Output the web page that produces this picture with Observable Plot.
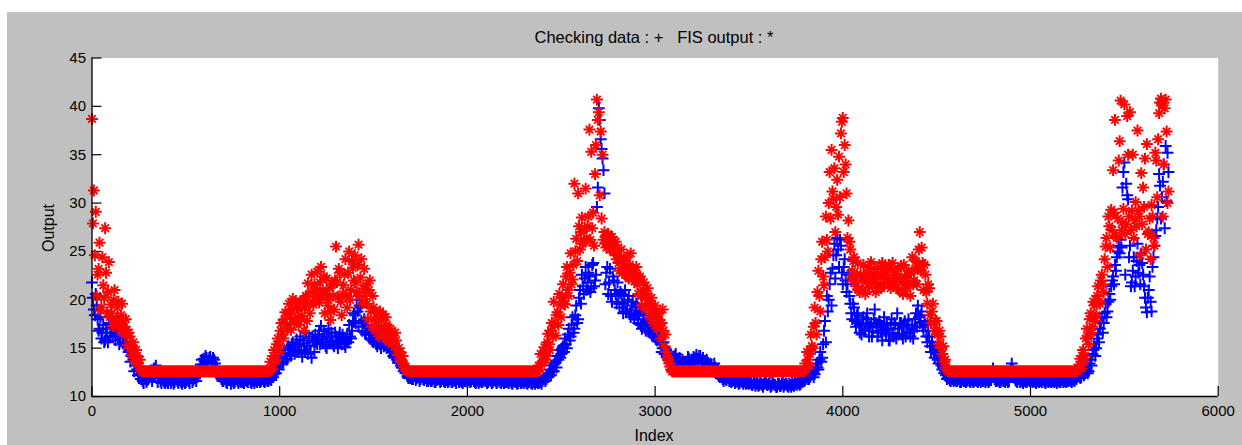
<!DOCTYPE html>
<html>
<head>
<meta charset="utf-8">
<script src="https://cdn.jsdelivr.net/npm/d3@7"></script>
<script src="https://cdn.jsdelivr.net/npm/@observablehq/plot@0.6"></script>
<style>
  html, body { margin: 0; padding: 0; background: #ffffff; }
  #fig { position: relative; width: 1242px; height: 445px; overflow: hidden; background: #ffffff; }
  #panel { position: absolute; left: 7px; top: 12px; width: 1235px; height: 433px; background: #c0c0c0; }
  .lbl { position: absolute; font-family: "Liberation Sans", Arial, sans-serif; font-size: 16px; color: #000; white-space: pre; line-height: 1; }
  #title { left: 654px; top: 37px; transform: translate(-50%, -50%); font-size: 16.5px; }
  #ylab { left: 49px; top: 228px; transform: translate(-50%, -50%) rotate(-90deg); }
  #xlab { left: 654px; top: 436px; transform: translate(-50%, -50%); }
</style>
</head>
<body>
<div id="fig">
  <div id="panel"></div>
  <div class="lbl" id="title">Checking data : +   FIS output : *</div>
  <div class="lbl" id="ylab">Output</div>
  <div class="lbl" id="xlab">Index</div>
</div>
<script>
// Two interleaved readings per 10-index window: one at index 10*i, one at 10*i + 5.
const sampleStep = 10;
const halfStep = 5;

// Checking data (blue "+") at index 10*i
const checkData = [
  21.8, 19.0, 20.6, 18.0, 17.0, 16.0, 17.4, 15.8, 16.6, 17.6,
  17.4, 16.2, 17.0, 16.4, 17.2, 16.0, 16.8, 16.2, 15.6, 15.0,
  14.8, 14.2, 13.8, 13.2, 12.8, 12.3, 11.8, 11.6, 12.0, 11.5,
  11.8, 12.6, 11.6, 12.9, 13.2, 11.5, 12.0, 11.4, 11.7, 11.4,
  11.6, 11.9, 11.4, 11.8, 11.5, 12.0, 11.4, 11.7, 11.3, 11.6,
  11.5, 11.8, 11.4, 12.0, 11.7, 11.9, 12.2, 12.8, 13.3, 13.0,
  13.6, 14.0, 13.7, 14.1, 13.5, 13.8, 13.0, 12.6, 12.2, 11.8,
  11.6, 11.9, 11.4, 11.7, 11.3, 11.8, 11.5, 11.9, 11.4, 11.6,
  11.7, 11.4, 11.8, 11.5, 11.9, 11.4, 11.6, 11.8, 11.5, 11.7,
  11.6, 11.8, 11.5, 11.9, 11.6, 12.0, 12.2, 12.6, 12.4, 13.0,
  13.4, 14.0, 13.6, 14.5, 13.9, 15.0, 14.2, 15.6, 14.4, 15.9,
  14.6, 16.2, 14.1, 15.5, 16.6, 14.4, 15.2, 14.0, 15.8, 16.4,
  15.4, 16.8, 17.3, 15.6, 16.4, 15.0, 17.0, 15.8, 16.2, 15.2,
  16.2, 15.0, 16.6, 15.4, 16.0, 15.1, 16.5, 17.4, 16.0, 17.8,
  18.4, 20.0, 17.2, 19.2, 16.8, 18.0, 16.4, 17.2, 16.0, 16.6,
  15.6, 16.2, 15.2, 15.9, 15.0, 15.6, 15.3, 15.0, 15.4, 14.8,
  14.6, 14.0, 14.3, 13.5, 13.8, 13.0, 12.6, 12.4, 12.1, 12.2,
  12.0, 11.8, 12.2, 11.9, 12.1, 11.8, 12.0, 11.7, 11.9, 11.6,
  11.8, 11.6, 11.9, 11.5, 11.7, 11.8, 11.6, 11.9, 11.5, 11.7,
  11.6, 11.8, 11.5, 11.7, 11.4, 11.8, 11.6, 11.5, 11.7, 11.6,
  11.5, 11.7, 11.6, 11.8, 11.5, 11.6, 11.4, 11.7, 11.5, 11.8,
  11.6, 11.5, 11.8, 11.4, 11.7, 11.6, 11.5, 11.8, 11.4, 11.6,
  11.7, 11.5, 11.4, 11.6, 11.3, 11.7, 11.5, 11.4, 11.6, 11.5,
  11.4, 11.6, 11.3, 11.5, 11.4, 11.6, 11.3, 11.5, 11.4, 11.6,
  11.6, 11.9, 12.2, 12.0, 12.8, 13.2, 12.6, 13.6, 14.2, 14.8,
  14.4, 15.2, 16.0, 15.0, 17.0, 16.2, 18.2, 17.0, 19.4, 18.0,
  21.0, 22.6, 20.6, 23.4, 21.8, 22.4, 21.2, 23.8, 22.0, 29.6,
  39.8, 36.6, 34.6, 31.0, 22.8, 20.6, 23.2, 19.8, 22.0, 20.6,
  21.8, 19.2, 20.6, 18.6, 21.0, 19.0, 20.4, 18.2, 19.8, 18.0,
  19.6, 17.6, 18.8, 17.0, 18.4, 16.8, 17.8, 16.6, 17.2, 16.2,
  16.6, 15.8, 16.2, 15.4, 15.0, 14.4, 14.8, 13.8, 14.2, 13.6,
  13.6, 14.4, 13.2, 14.0, 12.9, 13.6, 13.0, 13.4, 13.9, 13.1,
  13.6, 14.0, 14.3, 13.8, 14.2, 13.5, 13.6, 13.2, 13.4, 12.8,
  13.2, 12.9, 13.0, 12.5, 12.2, 12.0, 11.8, 12.0, 11.7, 11.9,
  11.8, 11.6, 11.7, 11.5, 11.6, 11.4, 11.6, 11.3, 11.5, 11.4,
  11.3, 11.5, 11.2, 11.4, 11.3, 11.1, 11.4, 11.2, 11.3, 11.5,
  11.2, 11.4, 11.1, 11.3, 11.2, 11.0, 11.3, 11.1, 11.4, 11.2,
  11.3, 11.0, 11.2, 11.4, 11.1, 11.3, 11.5, 11.2, 11.6, 11.8,
  11.9, 12.1, 11.8, 12.2, 12.6, 12.3, 13.4, 12.8, 14.6, 14.0,
  16.8, 15.6, 18.8, 21.6, 19.4, 24.6, 22.2, 26.4, 23.4, 25.6,
  21.6, 24.2, 20.8, 22.6, 19.6, 18.0, 19.2, 17.2, 18.6, 16.6,
  16.4, 18.2, 17.0, 18.6, 16.2, 17.6, 16.8, 19.0, 17.2, 16.6,
  17.4, 15.8, 18.2, 16.4, 17.0, 15.8, 18.0, 16.2, 17.4, 18.6,
  16.4, 17.6, 16.0, 17.8, 16.6, 18.0, 16.2, 17.4, 16.8, 18.6,
  19.4, 17.6, 18.8, 16.8, 17.4, 15.6, 16.2, 14.6, 15.2, 14.0,
  14.4, 13.4, 13.8, 12.8, 12.4, 12.2, 11.9, 11.7, 11.9, 11.6,
  11.8, 11.6, 11.9, 11.5, 11.7, 11.8, 11.6, 11.9, 11.5, 11.7,
  11.6, 11.8, 11.5, 11.7, 11.9, 11.6, 11.5, 11.8, 11.6, 11.7,
  12.9, 11.8, 11.6, 11.7, 11.5, 11.8, 11.6, 11.7, 11.5, 12.2,
  13.4, 12.6, 11.7, 11.5, 11.8, 11.6, 11.4, 11.7, 11.5, 11.8,
  11.6, 11.5, 11.7, 11.4, 11.6, 11.8, 11.5, 11.7, 11.4, 11.6,
  11.7, 11.5, 11.6, 11.8, 11.4, 11.6, 11.5, 11.7, 11.6, 11.5,
  11.6, 11.8, 11.5, 11.7, 11.9, 12.0, 12.2, 12.0, 12.6, 12.4,
  13.0, 12.6, 13.8, 14.4, 15.4, 15.0, 16.4, 17.0, 18.2, 17.6,
  19.6, 18.8, 20.6, 21.4, 22.4, 23.6, 24.4, 25.6, 26.2, 31.6,
  34.2, 32.0, 30.4, 25.6, 21.8, 24.4, 22.4, 25.8, 23.6, 24.8,
  22.6, 20.2, 18.7, 21.0, 19.8, 23.4, 25.6, 27.2, 29.6, 31.8,
  30.6, 34.0, 35.9, 35.2
];

// Checking data (blue "+") at index 10*i + 5
const checkDataHalf = [
  20.2, 18.4, 19.4, 16.8, 18.2, 16.6, 15.6, 17.0, 15.6, 16.2,
  16.6, 17.6, 15.8, 17.8, 15.4, 17.4, 15.6, 15.2, 16.2, 14.6,
  13.6, 14.6, 12.6, 13.6, 12.2, 12.9, 12.2, 11.4, 11.8, 11.7,
  12.2, 12.0, 12.4, 12.0, 12.6, 11.9, 11.6, 11.9, 11.5, 11.8,
  11.4, 11.7, 11.6, 11.3, 11.9, 11.6, 11.8, 11.5, 11.7, 11.4,
  11.7, 11.6, 11.9, 11.5, 12.1, 11.6, 12.6, 12.4, 13.8, 13.9,
  14.2, 13.5, 14.0, 13.6, 14.0, 13.4, 12.8, 12.2, 12.0, 11.6,
  11.8, 11.5, 11.7, 11.9, 11.6, 11.4, 11.8, 11.6, 11.7, 11.5,
  11.5, 11.7, 11.6, 11.8, 11.5, 11.7, 11.4, 11.6, 11.8, 11.5,
  11.8, 11.6, 11.7, 11.6, 11.8, 11.7, 12.0, 12.4, 13.2, 12.8,
  14.2, 13.4, 14.8, 13.8, 15.2, 14.4, 15.4, 14.8, 15.2, 14.6,
  15.4, 14.8, 15.8, 14.6, 15.2, 16.0, 14.6, 16.2, 14.6, 15.6,
  16.2, 15.4, 16.0, 16.8, 15.2, 16.2, 15.6, 16.6, 15.4, 16.6,
  15.6, 16.2, 15.6, 16.4, 15.4, 15.8, 15.6, 16.2, 16.8, 18.6,
  17.6, 18.8, 19.4, 17.8, 17.6, 16.6, 17.4, 16.4, 16.8, 15.8,
  16.0, 15.4, 16.4, 15.4, 15.8, 15.2, 15.8, 15.6, 14.8, 15.2,
  14.2, 14.6, 13.8, 14.0, 13.2, 13.4, 12.8, 12.8, 11.9, 11.9,
  11.8, 12.1, 11.7, 12.0, 11.6, 12.0, 11.8, 11.9, 11.6, 11.8,
  11.6, 11.8, 11.5, 11.7, 11.9, 11.5, 11.8, 11.6, 11.7, 11.5,
  11.8, 11.5, 11.7, 11.6, 11.8, 11.5, 11.7, 11.4, 11.6, 11.8,
  11.7, 11.5, 11.8, 11.6, 11.4, 11.7, 11.6, 11.5, 11.7, 11.6,
  11.4, 11.7, 11.6, 11.5, 11.8, 11.4, 11.7, 11.5, 11.6, 11.4,
  11.5, 11.6, 11.7, 11.4, 11.6, 11.5, 11.3, 11.6, 11.4, 11.7,
  11.6, 11.4, 11.5, 11.7, 11.3, 11.5, 11.6, 11.4, 11.5, 11.3,
  11.8, 11.6, 12.0, 12.4, 12.2, 12.6, 13.4, 13.0, 13.8, 14.0,
  15.0, 14.6, 15.4, 16.4, 15.8, 17.4, 16.6, 18.4, 17.6, 20.2,
  19.6, 21.4, 22.2, 21.0, 22.8, 20.8, 23.6, 21.4, 22.6, 31.6,
  38.6, 35.6, 33.4, 21.6, 23.4, 21.8, 20.4, 22.4, 21.0, 19.6,
  20.4, 20.8, 19.6, 19.8, 18.8, 20.0, 18.6, 19.4, 18.4, 19.2,
  18.4, 18.6, 17.4, 18.0, 17.2, 17.6, 16.8, 17.4, 16.4, 16.8,
  16.0, 16.4, 15.6, 14.6, 15.6, 15.0, 14.2, 14.6, 13.4, 14.0,
  14.2, 13.8, 13.6, 13.2, 13.8, 12.8, 13.2, 14.1, 13.4, 13.8,
  14.1, 13.4, 13.9, 14.2, 13.6, 14.0, 12.9, 13.8, 13.0, 13.4,
  12.6, 13.4, 12.4, 12.8, 12.0, 12.4, 11.6, 11.8, 12.0, 11.6,
  11.5, 11.7, 11.4, 11.8, 11.3, 11.7, 11.5, 11.6, 11.3, 11.6,
  11.4, 11.2, 11.5, 11.1, 11.4, 11.2, 11.3, 11.0, 11.4, 11.2,
  11.3, 11.0, 11.4, 11.2, 11.0, 11.3, 11.1, 11.3, 11.0, 11.3,
  11.1, 11.3, 11.0, 11.2, 11.4, 11.2, 11.4, 11.3, 11.5, 11.6,
  12.0, 11.8, 12.0, 12.4, 12.0, 12.8, 13.0, 13.8, 13.6, 15.4,
  17.8, 20.4, 20.0, 22.8, 23.2, 25.8, 24.6, 25.2, 26.2, 22.8,
  23.4, 22.0, 21.6, 20.4, 18.6, 19.6, 17.8, 18.4, 17.6, 17.4,
  17.4, 16.8, 18.0, 17.4, 17.2, 16.2, 18.0, 17.6, 16.2, 17.8,
  16.6, 17.2, 16.8, 17.6, 15.8, 17.4, 16.6, 17.6, 16.0, 17.0,
  17.6, 16.4, 17.2, 16.2, 17.4, 16.6, 17.0, 16.0, 18.0, 17.2,
  18.2, 18.4, 17.2, 17.8, 16.2, 16.8, 15.2, 15.6, 14.6, 14.8,
  13.8, 14.0, 13.2, 13.0, 12.6, 11.8, 12.0, 11.6, 11.8, 11.7,
  11.6, 11.8, 11.5, 11.8, 11.6, 11.5, 11.7, 11.6, 11.8, 11.5,
  11.7, 11.6, 11.8, 11.5, 11.6, 11.8, 11.7, 11.5, 11.8, 12.2,
  12.4, 11.6, 11.8, 11.5, 11.7, 11.6, 11.5, 11.8, 11.6, 12.8,
  12.8, 11.9, 11.6, 11.8, 11.5, 11.7, 11.6, 11.5, 11.7, 11.6,
  11.8, 11.6, 11.5, 11.7, 11.5, 11.6, 11.7, 11.5, 11.7, 11.5,
  11.6, 11.8, 11.5, 11.6, 11.7, 11.5, 11.8, 11.5, 11.7, 11.6,
  11.7, 11.6, 11.8, 11.6, 11.8, 12.1, 11.9, 12.4, 12.2, 12.8,
  12.4, 13.4, 13.2, 14.8, 14.2, 16.0, 15.6, 17.6, 16.6, 18.6,
  18.2, 19.8, 20.0, 22.0, 21.6, 23.0, 25.0, 24.8, 25.4, 33.2,
  22.6, 30.8, 24.4, 21.4, 23.0, 21.4, 24.0, 22.8, 21.6, 23.8,
  21.4, 19.2, 20.2, 22.4, 18.8, 24.4, 26.6, 28.4, 33.0, 28.4,
  32.2, 27.4, 30.2, 33.2
];

// FIS output (red "*") at index 10*i
const fisOutput = [
  38.7, 31.3, 29.1, 22.6, 25.9, 19.2, 21.5, 27.4, 18.6, 23.9,
  19.5, 17.3, 21.0, 18.0, 19.8, 16.8, 19.6, 17.2, 18.0, 15.3,
  16.2, 14.3, 15.6, 13.6, 14.2, 13.1, 12.8, 12.6, 12.6, 12.6,
  12.6, 12.6, 12.6, 12.6, 12.6, 12.6, 12.6, 12.6, 12.6, 12.6,
  12.6, 12.6, 12.6, 12.6, 12.6, 12.6, 12.6, 12.6, 12.6, 12.6,
  12.6, 12.6, 12.6, 12.6, 12.6, 12.6, 12.6, 12.6, 12.6, 12.6,
  12.6, 12.6, 12.6, 12.6, 12.6, 12.6, 12.6, 12.6, 12.6, 12.6,
  12.6, 12.6, 12.6, 12.6, 12.6, 12.6, 12.6, 12.6, 12.6, 12.6,
  12.6, 12.6, 12.6, 12.6, 12.6, 12.6, 12.6, 12.6, 12.6, 12.6,
  12.6, 12.6, 12.6, 12.6, 12.6, 13.6, 12.9, 14.8, 13.7, 16.0,
  15.2, 17.6, 16.0, 18.7, 17.0, 19.6, 16.9, 20.1, 18.0, 19.2,
  17.4, 19.8, 18.3, 16.8, 20.4, 21.7, 18.6, 22.6, 19.5, 21.2,
  22.9, 19.7, 23.4, 21.0, 18.6, 22.2, 20.0, 17.9, 21.6, 19.0,
  25.5, 20.3, 22.8, 18.4, 21.5, 24.2, 19.2, 25.0, 21.0, 23.3,
  24.6, 20.8, 25.7, 22.3, 19.6, 23.2, 21.5, 18.0, 22.0, 17.2,
  19.2, 16.8, 18.6, 16.2, 17.9, 18.5, 16.0, 17.4, 15.6, 17.0,
  16.4, 15.2, 15.8, 14.3, 14.6, 13.6, 13.4, 12.9, 12.6, 12.6,
  12.6, 12.6, 12.6, 12.6, 12.6, 12.6, 12.6, 12.6, 12.6, 12.6,
  12.6, 12.6, 12.6, 12.6, 12.6, 12.6, 12.6, 12.6, 12.6, 12.6,
  12.6, 12.6, 12.6, 12.6, 12.6, 12.6, 12.6, 12.6, 12.6, 12.6,
  12.6, 12.6, 12.6, 12.6, 12.6, 12.6, 12.6, 12.6, 12.6, 12.6,
  12.6, 12.6, 12.6, 12.6, 12.6, 12.6, 12.6, 12.6, 12.6, 12.6,
  12.6, 12.6, 12.6, 12.6, 12.6, 12.6, 12.6, 12.6, 12.6, 12.6,
  12.6, 12.6, 12.6, 12.6, 12.6, 12.6, 12.6, 12.6, 13.2, 14.4,
  13.6, 15.1, 14.2, 16.5, 14.8, 17.6, 19.8, 16.3, 18.7, 20.6,
  18.2, 21.6, 19.5, 23.4, 20.4, 24.8, 22.1, 32.0, 26.3, 31.0,
  25.2, 28.5, 26.0, 31.5, 27.6, 37.6, 35.3, 29.0, 33.0, 40.7,
  39.4, 37.4, 35.0, 27.0, 25.4, 26.8, 25.2, 26.5, 24.9, 26.0,
  24.6, 23.0, 25.2, 23.6, 22.6, 24.4, 22.2, 24.8, 23.0, 21.9,
  23.4, 20.6, 22.4, 19.4, 21.8, 19.0, 21.2, 18.2, 20.2, 17.6,
  19.4, 17.0, 18.6, 16.0, 19.0, 15.2, 14.6, 13.8, 13.1, 12.6,
  12.6, 12.6, 12.6, 12.6, 12.6, 12.6, 12.6, 12.6, 12.6, 12.6,
  12.6, 12.6, 12.6, 12.6, 12.6, 12.6, 12.6, 12.6, 12.6, 12.6,
  12.6, 12.6, 12.6, 12.6, 12.6, 12.6, 12.6, 12.6, 12.6, 12.6,
  12.6, 12.6, 12.6, 12.6, 12.6, 12.6, 12.6, 12.6, 12.6, 12.6,
  12.6, 12.6, 12.6, 12.6, 12.6, 12.6, 12.6, 12.6, 12.6, 12.6,
  12.6, 12.6, 12.6, 12.6, 12.6, 12.6, 12.6, 12.6, 12.6, 12.6,
  12.6, 12.6, 12.6, 12.6, 12.6, 12.6, 12.6, 12.6, 12.6, 12.6,
  13.4, 14.6, 13.2, 16.4, 15.0, 19.2, 16.4, 23.0, 18.8, 26.0,
  21.5, 28.6, 25.0, 33.2, 35.5, 30.4, 27.0, 32.4, 34.8, 37.2,
  38.8, 36.0, 31.0, 28.2, 25.2, 23.0, 24.4, 21.4, 23.8, 20.8,
  22.0, 23.6, 20.6, 22.8, 21.3, 23.9, 21.8, 22.6, 21.6, 23.4,
  22.3, 23.8, 21.6, 22.9, 21.8, 23.3, 22.1, 21.5, 23.0, 22.0,
  21.0, 23.5, 20.6, 22.4, 21.4, 23.0, 20.4, 24.4, 22.0, 24.0,
  23.2, 27.0, 25.4, 21.0, 22.6, 19.6, 21.2, 17.6, 19.6, 16.8,
  17.8, 15.4, 16.2, 14.4, 13.6, 13.0, 12.6, 12.6, 12.6, 12.6,
  12.6, 12.6, 12.6, 12.6, 12.6, 12.6, 12.6, 12.6, 12.6, 12.6,
  12.6, 12.6, 12.6, 12.6, 12.6, 12.6, 12.6, 12.6, 12.6, 12.6,
  12.6, 12.6, 12.6, 12.6, 12.6, 12.6, 12.6, 12.6, 12.6, 12.6,
  12.6, 12.6, 12.6, 12.6, 12.6, 12.6, 12.6, 12.6, 12.6, 12.6,
  12.6, 12.6, 12.6, 12.6, 12.6, 12.6, 12.6, 12.6, 12.6, 12.6,
  12.6, 12.6, 12.6, 12.6, 12.6, 12.6, 12.6, 12.6, 12.6, 12.6,
  12.6, 12.6, 12.6, 12.6, 12.6, 12.6, 13.3, 12.9, 14.8, 14.2,
  17.0, 15.4, 18.6, 17.2, 19.4, 18.4, 21.4, 19.6, 22.6, 20.8,
  25.5, 23.4, 27.6, 29.3, 33.4, 38.6, 26.4, 34.4, 40.6, 28.0,
  40.2, 27.8, 35.0, 39.4, 29.2, 26.4, 30.1, 37.5, 28.6, 33.1,
  31.6, 34.6, 36.1, 27.0, 24.2, 28.6, 25.6, 34.4, 36.6, 40.4,
  40.3, 34.0, 40.7, 30.0
];

// FIS output (red "*") at index 10*i + 5
const fisOutputHalf = [
  27.9, 24.6, 20.4, 23.2, 18.9, 24.4, 20.2, 22.8, 20.8, 18.2,
  18.6, 20.0, 17.6, 19.2, 17.6, 18.4, 17.8, 16.4, 16.9, 16.6,
  15.0, 15.2, 14.0, 14.8, 13.4, 13.8, 12.6, 12.6, 12.6, 12.6,
  12.6, 12.6, 12.6, 12.6, 12.6, 12.6, 12.6, 12.6, 12.6, 12.6,
  12.6, 12.6, 12.6, 12.6, 12.6, 12.6, 12.6, 12.6, 12.6, 12.6,
  12.6, 12.6, 12.6, 12.6, 12.6, 12.6, 12.6, 12.6, 12.6, 12.6,
  12.6, 12.6, 12.6, 12.6, 12.6, 12.6, 12.6, 12.6, 12.6, 12.6,
  12.6, 12.6, 12.6, 12.6, 12.6, 12.6, 12.6, 12.6, 12.6, 12.6,
  12.6, 12.6, 12.6, 12.6, 12.6, 12.6, 12.6, 12.6, 12.6, 12.6,
  12.6, 12.6, 12.6, 12.6, 12.6, 12.8, 14.2, 13.8, 15.4, 14.6,
  16.8, 16.4, 18.0, 17.4, 18.6, 18.2, 19.0, 17.6, 19.8, 18.2,
  19.0, 18.0, 20.0, 19.2, 17.8, 19.6, 20.8, 19.8, 21.6, 20.4,
  20.6, 21.8, 20.2, 22.4, 20.6, 19.4, 21.2, 18.8, 20.4, 22.0,
  21.8, 23.2, 19.8, 20.6, 22.6, 20.4, 22.8, 20.0, 24.0, 22.0,
  21.8, 23.6, 20.4, 24.2, 21.2, 20.4, 19.6, 21.0, 18.8, 20.4,
  18.0, 17.8, 17.2, 18.8, 16.8, 17.0, 18.2, 16.6, 16.4, 16.2,
  15.8, 16.6, 14.8, 15.0, 13.8, 14.2, 13.0, 12.7, 12.6, 12.6,
  12.6, 12.6, 12.6, 12.6, 12.6, 12.6, 12.6, 12.6, 12.6, 12.6,
  12.6, 12.6, 12.6, 12.6, 12.6, 12.6, 12.6, 12.6, 12.6, 12.6,
  12.6, 12.6, 12.6, 12.6, 12.6, 12.6, 12.6, 12.6, 12.6, 12.6,
  12.6, 12.6, 12.6, 12.6, 12.6, 12.6, 12.6, 12.6, 12.6, 12.6,
  12.6, 12.6, 12.6, 12.6, 12.6, 12.6, 12.6, 12.6, 12.6, 12.6,
  12.6, 12.6, 12.6, 12.6, 12.6, 12.6, 12.6, 12.6, 12.6, 12.6,
  12.6, 12.6, 12.6, 12.6, 12.6, 12.6, 12.6, 12.6, 12.8, 13.4,
  14.4, 13.8, 15.6, 15.4, 16.8, 16.2, 17.4, 18.4, 17.4, 19.4,
  20.2, 19.6, 22.4, 21.0, 22.8, 21.6, 23.6, 25.0, 24.0, 27.6,
  27.0, 25.8, 27.4, 26.4, 28.6, 26.2, 27.4, 25.6, 36.0, 38.6,
  30.8, 28.4, 26.2, 25.8, 26.6, 25.6, 26.0, 25.4, 25.6, 24.2,
  23.8, 24.2, 22.8, 24.0, 23.4, 22.4, 23.6, 23.2, 22.4, 22.8,
  21.6, 22.2, 20.4, 21.0, 20.2, 20.6, 19.6, 19.6, 18.6, 18.8,
  18.2, 18.0, 17.4, 17.6, 16.8, 16.4, 14.0, 13.4, 12.8, 12.6,
  12.6, 12.6, 12.6, 12.6, 12.6, 12.6, 12.6, 12.6, 12.6, 12.6,
  12.6, 12.6, 12.6, 12.6, 12.6, 12.6, 12.6, 12.6, 12.6, 12.6,
  12.6, 12.6, 12.6, 12.6, 12.6, 12.6, 12.6, 12.6, 12.6, 12.6,
  12.6, 12.6, 12.6, 12.6, 12.6, 12.6, 12.6, 12.6, 12.6, 12.6,
  12.6, 12.6, 12.6, 12.6, 12.6, 12.6, 12.6, 12.6, 12.6, 12.6,
  12.6, 12.6, 12.6, 12.6, 12.6, 12.6, 12.6, 12.6, 12.6, 12.6,
  12.6, 12.6, 12.6, 12.6, 12.6, 12.6, 12.6, 12.6, 12.6, 12.6,
  12.8, 13.8, 14.4, 15.2, 17.2, 17.6, 20.8, 20.4, 24.2, 22.4,
  24.4, 26.2, 30.0, 28.4, 31.2, 33.6, 29.6, 28.8, 30.6, 38.4,
  33.2, 34.0, 26.4, 26.0, 22.2, 24.0, 22.0, 22.6, 21.0, 22.6,
  21.0, 22.2, 21.8, 23.4, 22.4, 22.0, 23.2, 20.8, 22.6, 21.2,
  21.2, 22.8, 23.4, 22.2, 23.6, 21.2, 23.8, 22.6, 21.2, 23.2,
  22.2, 21.8, 23.6, 21.2, 22.6, 21.8, 22.8, 21.6, 23.2, 21.6,
  25.2, 23.0, 23.8, 23.6, 20.8, 21.6, 18.4, 18.8, 17.6, 17.8,
  16.4, 16.8, 15.0, 15.2, 13.8, 12.8, 12.6, 12.6, 12.6, 12.6,
  12.6, 12.6, 12.6, 12.6, 12.6, 12.6, 12.6, 12.6, 12.6, 12.6,
  12.6, 12.6, 12.6, 12.6, 12.6, 12.6, 12.6, 12.6, 12.6, 12.6,
  12.6, 12.6, 12.6, 12.6, 12.6, 12.6, 12.6, 12.6, 12.6, 12.6,
  12.6, 12.6, 12.6, 12.6, 12.6, 12.6, 12.6, 12.6, 12.6, 12.6,
  12.6, 12.6, 12.6, 12.6, 12.6, 12.6, 12.6, 12.6, 12.6, 12.6,
  12.6, 12.6, 12.6, 12.6, 12.6, 12.6, 12.6, 12.6, 12.6, 12.6,
  12.6, 12.6, 12.6, 12.6, 12.6, 12.9, 13.9, 14.2, 13.6, 16.0,
  16.2, 18.0, 16.6, 19.8, 17.8, 20.4, 19.8, 22.0, 21.6, 24.2,
  26.4, 28.6, 25.4, 27.2, 29.0, 26.6, 28.4, 36.4, 27.2, 29.4,
  26.8, 39.0, 28.6, 27.2, 35.0, 28.2, 27.6, 29.2, 24.6, 27.8,
  29.6, 25.2, 26.8, 28.4, 29.8, 26.4, 35.2, 30.6, 39.3, 40.8,
  28.6, 39.8, 37.4, 31.2
];

// Axis ticks
const xTicks = [0, 1000, 2000, 3000, 4000, 5000, 6000];
const yTicks = [10, 15, 20, 25, 30, 35, 40, 45];

const toRows = (values, offset) => values.map((value, i) => ({index: i * sampleStep + offset, value}));
const checkRows = toRows(checkData, 0).concat(toRows(checkDataHalf, halfStep));
const fisRows = toRows(fisOutput, 0).concat(toRows(fisOutputHalf, halfStep));

const font = '"Liberation Sans", Arial, sans-serif';

const chart = Plot.plot({
  width: 1235,
  height: 433,
  marginLeft: 84.5,
  marginRight: 24.3,
  marginTop: 45.5,
  marginBottom: 49,
  style: {background: "transparent", fontFamily: font, fontSize: "15px", color: "#000", overflow: "visible"},
  x: {domain: [0, 6000]},
  y: {domain: [10, 45]},
  marks: [
    Plot.frame({fill: "#ffffff", stroke: "none"}),
    Plot.axisY({ticks: yTicks, anchor: "left", tickSize: -10, tickPadding: 16, tickFormat: "d", label: null, stroke: "#000", strokeWidth: 1.2, fontSize: 15}),
    Plot.axisX({ticks: xTicks, anchor: "bottom", tickSize: -10, tickPadding: 19, tickFormat: "d", label: null, stroke: "#000", strokeWidth: 1.2, fontSize: 15}),
    // checking data: "+" markers
    Plot.dot(checkRows, {x: "index", y: "value", symbol: "plus", r: 3.9, fill: "none", stroke: "#0000ff", strokeWidth: 2.0}),
    // FIS output: "*" drawn as a "+" overlaid with an "x"
    Plot.dot(fisRows, {x: "index", y: "value", symbol: "plus", r: 3.9, fill: "none", stroke: "#ff0000", strokeWidth: 2.0}),
    Plot.dot(fisRows, {x: "index", y: "value", symbol: "times", r: 3.5, fill: "none", stroke: "#ff0000", strokeWidth: 1.8}),
    Plot.ruleX([0], {stroke: "#000", strokeWidth: 1.3}),
    Plot.ruleY([10], {stroke: "#000", strokeWidth: 1.3})
  ]
});

document.getElementById("panel").appendChild(chart);
</script>
</body>
</html>
